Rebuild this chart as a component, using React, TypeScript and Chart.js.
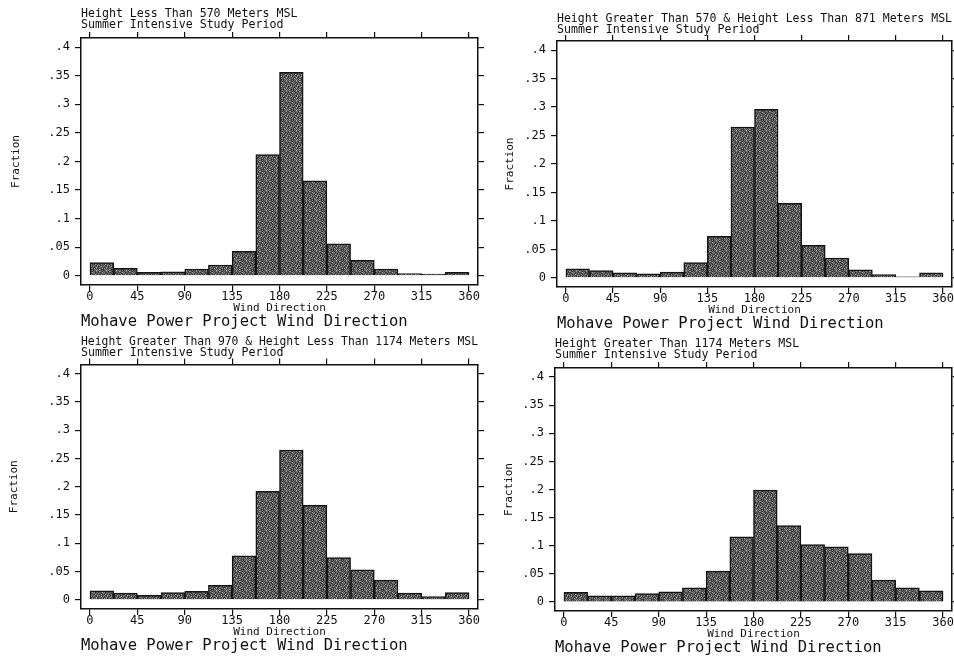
import React, { useEffect, useRef } from "react";
import { Chart, registerables } from "chart.js";

Chart.register(...registerables);

// ---- data ----
const binCenters = [11.25, 33.75, 56.25, 78.75, 101.25, 123.75, 146.25, 168.75, 191.25, 213.75, 236.25, 258.75, 281.25, 303.75, 326.25, 348.75];
const xTicks = [0, 45, 90, 135, 180, 225, 270, 315, 360];
const xTickLabels = ["0", "45", "90", "135", "180", "225", "270", "315", "360"];
const yTicks = [0, 0.05, 0.1, 0.15, 0.2, 0.25, 0.3, 0.35, 0.4];
const yTickLabels = ["0", ".05", ".1", ".15", ".2", ".25", ".3", ".35", ".4"];

const fracBelow570 = [0.023, 0.013, 0.006, 0.007, 0.012, 0.019, 0.043, 0.212, 0.356, 0.166, 0.056, 0.027, 0.012, 0.004, 0.003, 0.006];
const frac570to871 = [0.016, 0.013, 0.009, 0.007, 0.010, 0.027, 0.073, 0.265, 0.296, 0.131, 0.057, 0.035, 0.014, 0.006, 0.002, 0.009];
const frac970to1174 = [0.016, 0.012, 0.008, 0.013, 0.015, 0.026, 0.078, 0.192, 0.265, 0.167, 0.075, 0.053, 0.035, 0.012, 0.006, 0.013];
const fracAbove1174 = [0.017, 0.011, 0.011, 0.015, 0.018, 0.025, 0.055, 0.116, 0.199, 0.136, 0.102, 0.098, 0.086, 0.039, 0.025, 0.020];

const titleBelow570 = "Height Less Than 570 Meters MSL";
const title570to871 = "Height Greater Than 570 & Height Less Than 871 Meters MSL";
const title970to1174 = "Height Greater Than 970 & Height Less Than 1174 Meters MSL";
const titleAbove1174 = "Height Greater Than 1174 Meters MSL";
const periodLine = "Summer Intensive Study Period";
const footerText = "Mohave Power Project Wind Direction";
const xTitle = "Wind Direction";
const yTitle = "Fraction";

// ---- layout / style ----
const X_MIN = -8.5;
const X_MAX = 368.5;
const Y_MIN = -0.016;
const Y_MAX = 0.416;
const MONO = "'DejaVu Sans Mono', 'Liberation Mono', monospace";
const INK = "#111111";

const panels = [
  { title: titleBelow570, values: fracBelow570, padL: 10.5, yW: 70.5, padR: 470, y2W: 6, padT: 8.5, titlePadB: 1.5, padB: 332 },
  { title: title570to871, values: frac570to871, padL: 504.5, yW: 52.5, padR: 0, y2W: 2, padT: 13, titlePadB: 0, padB: 330 },
  { title: title970to1174, values: frac970to1174, padL: 8.5, yW: 72.5, padR: 470, y2W: 6, padT: 336.5, titlePadB: 0, padB: 8 },
  { title: titleAbove1174, values: fracAbove1174, padL: 503.5, yW: 51.5, padR: 0, y2W: 2, padT: 338.5, titlePadB: 1.5, padB: 6 },
];

// hand-drawn irregular stipple tile (style only)
const stippleRows = [
  "3150426251",
  "5204135306",
  "1362502413",
  "4025314052",
  "2513063241",
  "0432510635",
  "3605241503",
  "5142036214",
  "2350615042",
  "4021352516",
];
const stippleShades = ["#2e2e2e", "#3e3e3e", "#4c4c4c", "#5a5a5a", "#6c6c6c", "#848484", "#a8a8a8"];

function makeStipple(): CanvasPattern | string {
  const n = stippleRows.length;
  const c = document.createElement("canvas");
  c.width = n;
  c.height = n;
  const g = c.getContext("2d");
  if (!g) return "#565656";
  for (let y = 0; y < n; y++) {
    for (let x = 0; x < n; x++) {
      g.fillStyle = stippleShades[Number(stippleRows[y][x])];
      g.fillRect(x, y, 1, 1);
    }
  }
  return g.createPattern(c, "repeat") || "#565656";
}

const gridOpts = {
  display: true,
  drawOnChartArea: false,
  drawTicks: true,
  tickLength: 6,
  color: INK,
  lineWidth: 1.2,
  offset: false,
};
const borderOpts = { display: true, color: INK, width: 1.5 };

function setXTicks(s: any) {
  s.ticks = xTicks.map((v) => ({ value: v }));
}
function setYTicks(s: any) {
  s.ticks = yTicks.map((v) => ({ value: v }));
}

function makeConfig(p: any, fill: any): any {
  return {
    type: "bar",
    data: {
      datasets: [
        {
          data: binCenters.map((c, i) => ({ x: c, y: p.values[i] })),
          backgroundColor: fill,
          borderColor: "#141414",
          borderWidth: 1.5,
          barPercentage: 1,
          categoryPercentage: 1,
          xAxisID: "x",
          yAxisID: "y",
        },
      ],
    },
    options: {
      responsive: false,
      animation: false,
      events: [],
      layout: { padding: { left: p.padL, right: p.padR, top: p.padT, bottom: p.padB } },
      plugins: {
        legend: { display: false },
        tooltip: { enabled: false },
        title: {
          display: true,
          text: [p.title, periodLine],
          position: "top",
          align: "start",
          fullSize: false,
          color: INK,
          font: { family: MONO, size: 11.6, lineHeight: "11px", weight: "normal" },
          padding: { top: 0, bottom: p.titlePadB },
        },
        subtitle: {
          display: true,
          text: footerText,
          position: "bottom",
          align: "start",
          fullSize: false,
          color: INK,
          font: { family: MONO, size: 15.5, lineHeight: "15px", weight: "normal" },
          padding: { top: 0.5, bottom: 0 },
        },
      },
      scales: {
        x: {
          type: "linear",
          position: "bottom",
          min: X_MIN,
          max: X_MAX,
          offset: false,
          afterBuildTicks: setXTicks,
          ticks: {
            color: INK,
            font: { family: MONO, size: 12, lineHeight: 1 },
            padding: 0,
            maxRotation: 0,
            autoSkip: false,
            callback: (_v: any, i: number) => xTickLabels[i],
          },
          grid: gridOpts,
          border: borderOpts,
          title: {
            display: true,
            text: xTitle,
            color: INK,
            font: { family: MONO, size: 11, lineHeight: "11px" },
            padding: 0,
          },
          afterFit: (s: any) => {
            s.height = 28.5;
            s.paddingLeft = 0;
            s.paddingRight = 0;
          },
        },
        x2: {
          type: "linear",
          position: "top",
          min: X_MIN,
          max: X_MAX,
          offset: false,
          afterBuildTicks: setXTicks,
          ticks: { display: false },
          grid: gridOpts,
          border: borderOpts,
          afterFit: (s: any) => {
            s.height = 6;
            s.paddingLeft = 0;
            s.paddingRight = 0;
          },
        },
        y: {
          type: "linear",
          position: "left",
          min: Y_MIN,
          max: Y_MAX,
          afterBuildTicks: setYTicks,
          ticks: {
            color: INK,
            font: { family: MONO, size: 12, lineHeight: 1 },
            padding: 5,
            autoSkip: false,
            callback: (_v: any, i: number) => yTickLabels[i],
          },
          grid: gridOpts,
          border: borderOpts,
          title: {
            display: true,
            text: yTitle,
            color: INK,
            font: { family: MONO, size: 11, lineHeight: "11px" },
            padding: 0,
          },
          afterFit: (s: any) => {
            s.width = p.yW;
            s.paddingTop = 0;
            s.paddingBottom = 0;
          },
        },
        y2: {
          type: "linear",
          position: "right",
          min: Y_MIN,
          max: Y_MAX,
          afterBuildTicks: setYTicks,
          ticks: { display: false },
          grid: gridOpts,
          border: borderOpts,
          afterFit: (s: any) => {
            s.width = p.y2W;
            s.paddingTop = 0;
            s.paddingBottom = 0;
          },
        },
      },
    },
  };
}

export default function App() {
  const refs = useRef<(HTMLCanvasElement | null)[]>([]);

  useEffect(() => {
    const fill = makeStipple();
    const charts = panels.map((p, i) => new Chart(refs.current[i] as HTMLCanvasElement, makeConfig(p, fill)));
    return () => charts.forEach((c) => c.destroy());
  }, []);

  return (
    <div style={{ position: "absolute", left: 0, top: 0, width: 954, height: 661, background: "#ffffff" }}>
      {panels.map((p, i) => (
        <canvas
          key={i}
          ref={(el) => {
            refs.current[i] = el;
          }}
          width={954}
          height={661}
          style={{ position: "absolute", left: 0, top: 0 }}
        />
      ))}
    </div>
  );
}
